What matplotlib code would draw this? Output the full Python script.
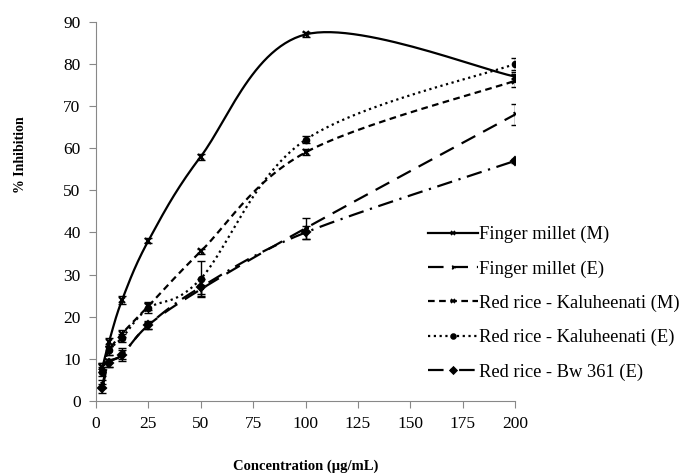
import numpy as np
import matplotlib
matplotlib.use("Agg")
import matplotlib.pyplot as plt

plt.rcParams['font.family'] = ['Liberation Serif', 'DejaVu Serif']

# concentrations (ug/mL)
conc = [3.125, 6.25, 12.5, 25, 50, 100, 200]

fm_m = [8, 14, 24, 38, 58, 87, 77]
fm_m_err = [1, 1, 1, 0.6, 0.7, 0.6, 1]

fm_e = [4, 9, 11, 18, 26.5, 41, 68]
fm_e_err = [1, 1, 1.5, 1, 1, 2.5, 2.5]

kal_m = [8, 12, 16, 22.5, 35.5, 59, 76]
kal_m_err = [1, 1, 0.8, 1, 0.5, 0.7, 1.5]

kal_e = [7, 12, 15, 22, 29, 62, 80]
kal_e_err = [1, 1, 1, 1.2, 4.3, 0.8, 1.5]

bw = [3, 9, 11, 18, 27, 40, 57]
bw_err = [1, 1, 1, 0.8, 2, 1.5, 0.4]

labels = ["Finger millet (M)", "Finger millet (E)", "Red rice - Kaluheenati (M)",
          "Red rice - Kaluheenati (E)", "Red rice - Bw 361 (E)"]


def smooth(x, y, n=30):
    # excel-like smoothed line: bezier with catmull-rom control points
    x = np.asarray(x, float)
    y = np.asarray(y, float)
    P = np.column_stack([x, y])
    out = []
    for i in range(len(P) - 1):
        p0 = P[i - 1] if i > 0 else P[i]
        p1 = P[i]
        p2 = P[i + 1]
        p3 = P[i + 2] if i + 2 < len(P) else P[i + 1]
        c1 = p1 + (p2 - p0) / 6.0
        c2 = p2 - (p3 - p1) / 6.0
        t = np.linspace(0, 1, n)[:, None]
        seg = ((1 - t) ** 3) * p1 + 3 * ((1 - t) ** 2) * t * c1 + 3 * (1 - t) * t ** 2 * c2 + t ** 3 * p2
        out.append(seg if i == 0 else seg[1:])
    out = np.vstack(out)
    return out[:, 0], out[:, 1]


fig = plt.figure(figsize=(6.85, 4.74), dpi=100)
ax = fig.add_axes([0.140, 0.154, 0.612, 0.800])

series = [
    (fm_m, fm_m_err, '-', 'x'),
    (fm_e, fm_e_err, (0, (7, 4)), '4'),
    (kal_m, kal_m_err, (0, (3, 2)), 'x'),
    (kal_e, kal_e_err, (0, (1, 1.6)), 'o'),
    (bw, bw_err, (0, (7, 3, 1, 3)), 'D'),
]

handles = []
for (vals, err, ls, mk), lab in zip(series, labels):
    xs, ys = smooth(conc, vals)
    ax.plot(xs, ys, color='black', lw=1.6, linestyle=ls)
    ax.errorbar(conc, vals, yerr=err, fmt='none', ecolor='black', elinewidth=1, capsize=3)
    ax.plot(conc, vals, linestyle='none', marker=mk, color='black', ms=4, mew=1.5)
    h, = ax.plot([], [], color='black', lw=1.6, linestyle=ls, marker=mk, ms=3.5, mew=1.2)
    handles.append(h)

ax.set_xlim(0, 200)
ax.set_ylim(0, 90)
ax.set_xticks(np.arange(0, 201, 25))
ax.set_yticks(np.arange(0, 91, 10))
for s in ['top', 'right']:
    ax.spines[s].set_visible(False)
for s in ['left', 'bottom']:
    ax.spines[s].set_color('#888888')
ax.tick_params(direction='out', color='#888888', length=5, labelsize=12.5, pad=6)

ax.set_xlabel("Concentration (µg/mL)", fontsize=10.5, fontweight='bold')
ax.xaxis.set_label_coords(0.5, -0.155)
ax.set_ylabel("% Inhibition", fontsize=10, fontweight='bold')
ax.yaxis.set_label_coords(-0.165, 0.65)

fig.legend(handles, labels, loc='center left', bbox_to_anchor=(0.6, 0.36),
           frameon=False, fontsize=13.3, handlelength=2.7, handletextpad=0.1,
           labelspacing=0.92)

fig.savefig("out.png", dpi=100)
